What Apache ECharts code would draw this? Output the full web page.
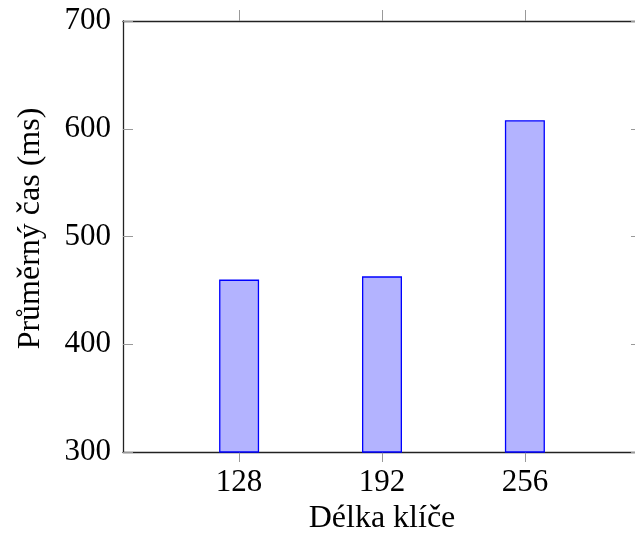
<!DOCTYPE html>
<html>
<head>
<meta charset="utf-8">
<script src="https://cdn.jsdelivr.net/npm/echarts@6/dist/echarts.min.js"></script>
<style>
html,body{margin:0;padding:0;background:#fff;}
#c{width:635px;height:536px;}
</style>
</head>
<body>
<div id="c"></div>
<script>
var keyLengths = [128, 192, 256];
var avgTimes = [460, 463, 608];
var yTicks = [300, 400, 500, 600, 700];
var xTitle = 'Délka klíče';
var yTitle = 'Průměrný čas (ms)';

var font = 'Liberation Serif';
var chart = echarts.init(document.getElementById('c'), null, {renderer: 'canvas'});
var data = keyLengths.map(function (k, i) { return [k, avgTimes[i]]; });
var tickStyle = {color: '#999', width: 1};
var lineStyle = {color: '#222', width: 1.3};
chart.setOption({
  animation: false,
  backgroundColor: '#fff',
  grid: {left: 123, top: 21, width: 518, height: 431, containLabel: false, outerBoundsMode: 'none'},
  xAxis: [{
    type: 'value', min: 76, max: 308, position: 'bottom',
    axisLine: {show: true, onZero: false, lineStyle: lineStyle},
    axisTick: {show: true, inside: false, length: 10, customValues: keyLengths, lineStyle: tickStyle},
    axisLabel: {customValues: keyLengths, fontFamily: font, fontSize: 31, color: '#000', margin: 15},
    splitLine: {show: false},
    name: xTitle, nameLocation: 'middle', nameGap: 45,
    nameTextStyle: {fontFamily: font, fontSize: 32, color: '#000'}
  }, {
    type: 'value', min: 76, max: 308, position: 'top',
    axisLine: {show: true, onZero: false, lineStyle: lineStyle},
    axisTick: {show: true, inside: false, length: 11, customValues: keyLengths, lineStyle: tickStyle},
    axisLabel: {show: false},
    splitLine: {show: false}
  }],
  yAxis: [{
    type: 'value', min: yTicks[0], max: yTicks[yTicks.length - 1], interval: 100, position: 'left',
    axisLine: {show: true, onZero: false, lineStyle: lineStyle},
    axisTick: {show: true, inside: true, length: 10, lineStyle: tickStyle},
    axisLabel: {fontFamily: font, fontSize: 31, color: '#000', margin: 12},
    splitLine: {show: false},
    name: yTitle, nameLocation: 'middle', nameGap: 76,
    nameTextStyle: {fontFamily: font, fontSize: 32, color: '#000', padding: [0, 0, 0, 16]}
  }, {
    type: 'value', min: yTicks[0], max: yTicks[yTicks.length - 1], interval: 100, position: 'right',
    axisLine: {show: true, onZero: false, lineStyle: lineStyle},
    axisTick: {show: true, inside: true, length: 10, lineStyle: tickStyle},
    axisLabel: {show: false},
    splitLine: {show: false}
  }],
  series: [{
    type: 'bar', xAxisIndex: 0, yAxisIndex: 0,
    data: data, barWidth: 40,
    itemStyle: {color: '#b3b3ff', borderColor: '#0000ff', borderWidth: 1.3}
  }]
});
</script>
</body>
</html>
